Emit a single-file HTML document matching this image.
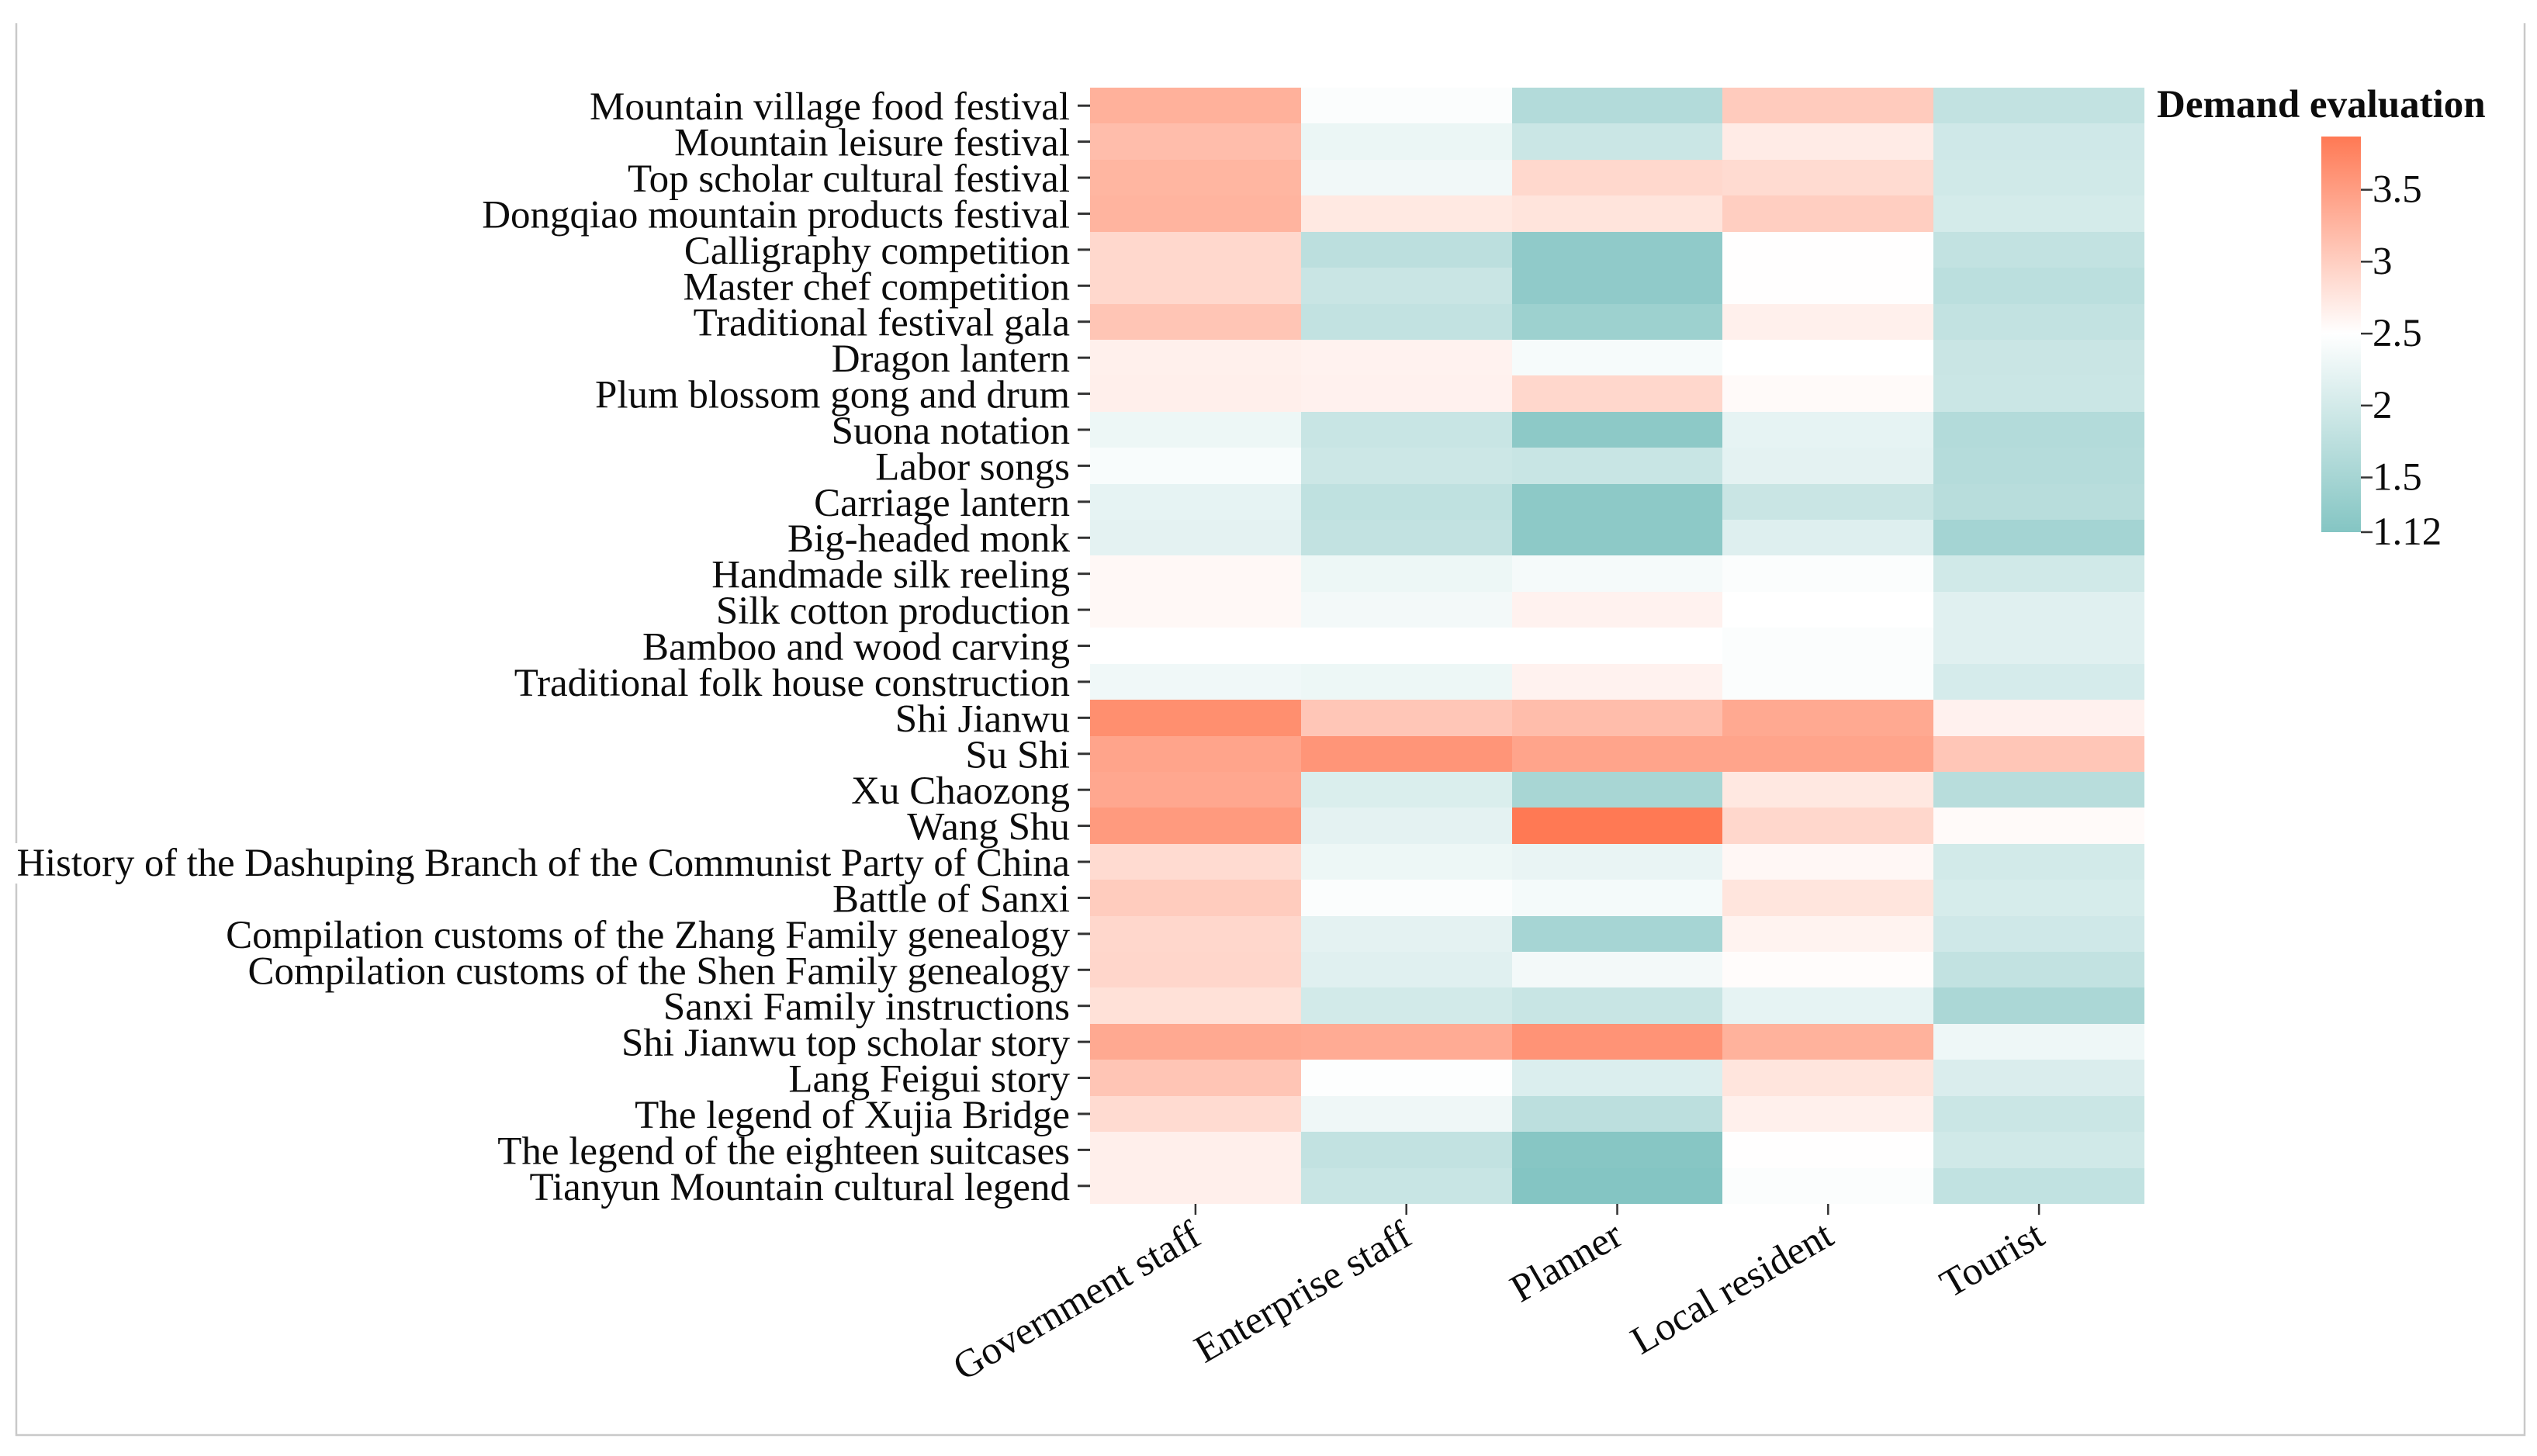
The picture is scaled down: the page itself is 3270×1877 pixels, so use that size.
<!DOCTYPE html>
<html lang="en">
<head>
<meta charset="utf-8">
<title>Demand evaluation heatmap</title>
<style>
html,body{margin:0;padding:0;background:#fff;}
body{width:3270px;height:1877px;overflow:hidden;}
svg{display:block;}
text{font-family:"Liberation Serif",serif;fill:#0c0c0c;}
</style>
</head>
<body>
<svg id="chart" xmlns="http://www.w3.org/2000/svg" width="3270" height="1877" viewBox="0 0 3270 1877">
  <rect x="0" y="0" width="3270" height="1877" fill="#fff"/>
  <path d="M21 30V1850H3254V30" fill="none" stroke="#c9c9c9" stroke-width="2.5"/>
  <rect x="17" y="1087" width="8" height="52" fill="#fff"/>
  <g id="cells" shape-rendering="crispEdges"></g>
  <g id="y-axis"></g>
  <g id="x-axis"></g>
  <text x="2780" y="151" font-size="51" font-weight="bold">Demand evaluation</text>
  <defs>
    <linearGradient id="legend-gradient" x1="0" y1="1" x2="0" y2="0"></linearGradient>
  </defs>
  <rect id="colorbar" fill="url(#legend-gradient)"/>
  <g id="legend-ticks"></g>
</svg>
<script>
const rowLabels = [
  "Mountain village food festival","Mountain leisure festival","Top scholar cultural festival",
  "Dongqiao mountain products festival","Calligraphy competition","Master chef competition",
  "Traditional festival gala","Dragon lantern","Plum blossom gong and drum","Suona notation",
  "Labor songs","Carriage lantern","Big-headed monk","Handmade silk reeling","Silk cotton production",
  "Bamboo and wood carving","Traditional folk house construction","Shi Jianwu","Su Shi","Xu Chaozong",
  "Wang Shu","History of the Dashuping Branch of the Communist Party of China","Battle of Sanxi",
  "Compilation customs of the Zhang Family genealogy","Compilation customs of the Shen Family genealogy",
  "Sanxi Family instructions","Shi Jianwu top scholar story","Lang Feigui story","The legend of Xujia Bridge",
  "The legend of the eighteen suitcases","Tianyun Mountain cultural legend"
];
const columnLabels = ["Government staff","Enterprise staff","Planner","Local resident","Tourist"];
const governmentStaff = [3.3,3.17,3.25,3.27,2.9,2.9,3.09,2.65,2.66,2.3,2.42,2.22,2.2,2.57,2.57,2.5,2.33,3.65,3.43,3.4,3.53,2.87,3.02,2.91,2.92,2.81,3.38,3.09,2.87,2.66,2.66];
const enterpriseStaff = [2.45,2.28,2.34,2.73,1.75,1.89,1.81,2.63,2.64,1.88,1.93,1.78,1.81,2.3,2.36,2.5,2.3,3.08,3.58,2.09,2.2,2.3,2.46,2.2,2.15,2.0,3.36,2.48,2.32,1.81,1.88];
const planner = [1.65,1.9,2.9,2.78,1.25,1.25,1.4,2.4,2.91,1.22,1.88,1.22,1.22,2.39,2.63,2.5,2.63,3.17,3.43,1.52,3.87,2.25,2.38,1.5,2.36,1.88,3.6,2.1,1.75,1.15,1.12];
const localResident = [3.03,2.7,2.87,3.0,2.51,2.51,2.65,2.5,2.55,2.22,2.2,1.89,2.13,2.46,2.5,2.45,2.46,3.38,3.43,2.74,2.91,2.58,2.77,2.62,2.53,2.22,3.29,2.77,2.65,2.51,2.46];
const tourist = [1.82,1.96,1.97,2.02,1.82,1.74,1.81,1.89,1.9,1.65,1.67,1.7,1.48,1.97,2.15,2.15,2.03,2.64,3.08,1.7,2.55,2.0,2.04,1.96,1.82,1.56,2.31,2.08,1.9,1.97,1.8];
const colorbarTicks = [3.5,3,2.5,2,1.5,1.12];
const colorDomain = [1.12,2.5,3.87];

const seriesByColumn = [governmentStaff,enterpriseStaff,planner,localResident,tourist];
const NS = "http://www.w3.org/2000/svg";
const plotLeft = 1405, plotRight = 2764, plotTop = 113, plotBottom = 1552;
const bandW = (plotRight - plotLeft) / columnLabels.length;
const bandH = (plotBottom - plotTop) / rowLabels.length;
const barX = 2992, barW = 51, barTop = 176, barBottom = 686;
function xBand(i){ return plotLeft + i * bandW; }
function yBand(i){ return plotTop + i * bandH; }
function yLegend(v){ return barBottom - (v - colorDomain[0]) / (colorDomain[2] - colorDomain[0]) * (barBottom - barTop); }
function colorOf(v){
  const low=[132,197,195], mid=[255,255,255], high=[255,121,84];
  let a,b,t;
  if(v<=colorDomain[1]){ a=mid;b=low;t=(colorDomain[1]-v)/(colorDomain[1]-colorDomain[0]); }
  else { a=mid;b=high;t=(v-colorDomain[1])/(colorDomain[2]-colorDomain[1]); }
  t=Math.max(0,Math.min(1,t));
  const c=a.map(function(x,k){return Math.round(x+(b[k]-x)*t);});
  return "rgb("+c[0]+","+c[1]+","+c[2]+")";
}
function make(tag, attrs, parent){
  const el=document.createElementNS(NS,tag);
  for(const k in attrs){ el.setAttribute(k,attrs[k]); }
  parent.appendChild(el);
  return el;
}
const cellsG=document.getElementById("cells");
const yG=document.getElementById("y-axis");
const xG=document.getElementById("x-axis");
const legendG=document.getElementById("legend-ticks");

seriesByColumn.forEach(function(series,c){
  series.forEach(function(v,r){
    const x0=Math.round(xBand(c)), x1=Math.round(xBand(c+1));
    const y0=Math.round(yBand(r)), y1=Math.round(yBand(r+1));
    const el=make("rect",{x:x0,y:y0,width:x1-x0,height:y1-y0,fill:colorOf(v)},cellsG);
    
    
  });
});

rowLabels.forEach(function(label,r){
  const cy=yBand(r)+bandH/2;
  const tick=make("line",{x1:1389,x2:plotLeft,y1:cy,y2:cy,stroke:"#333","stroke-width":3},yG);
  
  
  const size=label.length>60?50.6:51;
  const t=make("text",{x:1379,y:cy+18,"text-anchor":"end","font-size":size},yG);
  t.textContent=label;
  
  
});

columnLabels.forEach(function(label,c){
  const cx=xBand(c)+bandW/2;
  const tick=make("line",{x1:cx,x2:cx,y1:plotBottom,y2:1566,stroke:"#333","stroke-width":2.5},xG);
  
  
  const ax=cx+10, ay=1602;
  const t=make("text",{x:ax,y:ay,"text-anchor":"end","font-size":51,transform:"rotate(-30 "+ax+" "+ay+")"},xG);
  t.textContent=label;
  
  
});

const grad=document.getElementById("legend-gradient");
[colorDomain[0],(colorDomain[0]+colorDomain[1])/2,colorDomain[1],(colorDomain[1]+colorDomain[2])/2,colorDomain[2]].forEach(function(v){
  make("stop",{offset:(v-colorDomain[0])/(colorDomain[2]-colorDomain[0]),"stop-color":colorOf(v)},grad);
});
const bar=document.getElementById("colorbar");
bar.setAttribute("x",barX);
bar.setAttribute("y",barTop);
bar.setAttribute("width",barW);
bar.setAttribute("height",barBottom-barTop);

colorbarTicks.forEach(function(v){
  const y=yLegend(v);
  const tick=make("line",{x1:barX+barW,x2:barX+barW+15,y1:y,y2:y,stroke:"#333","stroke-width":2.5},legendG);
  
  
  const t=make("text",{x:barX+barW+15,y:y+16,"font-size":51},legendG);
  t.textContent=String(v);
  
  
});
</script>
</body>
</html>
